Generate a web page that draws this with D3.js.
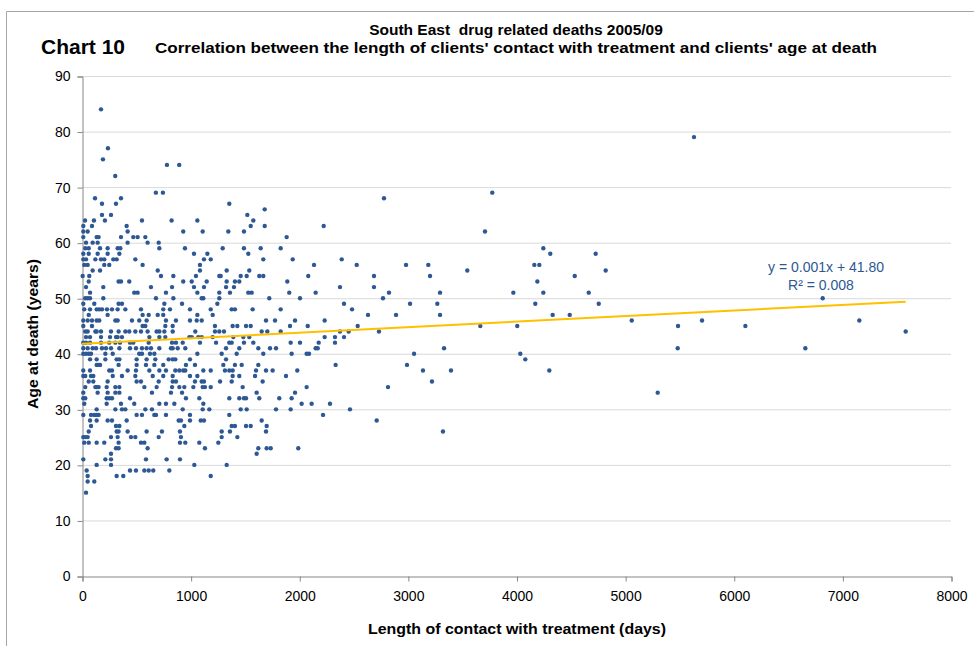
<!DOCTYPE html>
<html>
<head>
<meta charset="utf-8">
<script src="https://cdn.jsdelivr.net/npm/d3@7"></script>
<style>
  body { margin: 0; background: #fff; }
  text { font-family: "Liberation Sans", Arial, sans-serif; }
</style>
</head>
<body>
<div id="container"></div>
<script>
/* CONSTANTS AND GLOBALS */
const width = 974;
const height = 646;
const plot = { left: 82, right: 951, top: 76, bottom: 576 };

/* DATA */
const xTicks = [0, 1000, 2000, 3000, 4000, 5000, 6000, 7000, 8000];
const yTicks = [0, 10, 20, 30, 40, 50, 60, 70, 80, 90];
const trendSlope = 0.001;
const trendIntercept = 41.80;

// age at death, then days of contact with treatment for each client of that age
const daysByAge = [
  [84, [175]],
  [79, [5634]],
  [77, [239]],
  [75, [193]],
  [74, [782, 895]],
  [72, [306]],
  [69, [680, 745, 3777]],
  [68, [120, 359, 2780]],
  [67, [184, 313, 1356]],
  [66, [1682]],
  [65, [184, 267, 1522]],
  [64, [28, 110, 211, 552, 825, 1062, 1577]],
  [63, [12, 92, 411, 1553, 1682, 2225]],
  [62, [12, 52, 420, 932, 1111, 1347, 1491, 3710]],
  [61, [12, 135, 153, 359, 472, 512, 583, 1884]],
  [60, [37, 98, 144, 420, 604, 706]],
  [59, [30, 62, 166, 236, 328, 353, 712, 948, 1295, 1491, 1645, 1829, 4247]],
  [58, [12, 62, 144, 236, 344, 1031, 1154, 1531, 4311, 4729]],
  [57, [12, 37, 123, 175, 205, 288, 319, 491, 1123, 1185, 1669, 1940, 2391]],
  [56, [21, 52, 205, 251, 558, 1086, 2136, 2529, 2983, 3188, 4164, 4210]],
  [55, [98, 166, 697, 1086, 1332, 1540, 3547, 4821]],
  [54, [6, 67, 727, 841, 1049, 1264, 1277, 1461, 1516, 1632, 1669, 2083, 2688, 3204, 4536]],
  [53, [62, 337, 359, 435, 932, 1010, 1148, 1332, 1408, 1448, 1890, 4192]],
  [52, [37, 196, 635, 829, 1031, 1123, 1326, 1399, 2375, 2688]],
  [51, [74, 481, 512, 773, 1062, 1264, 1362, 1531, 1562, 1908, 2151, 2826, 3296, 3971, 4247, 4665]],
  [50, [30, 52, 74, 196, 681, 841, 1102, 1117, 1264, 1724, 2007, 2771, 6819]],
  [49, [12, 113, 337, 368, 758, 921, 1246, 2412, 3020, 3271, 4173, 4757]],
  [48, [21, 74, 135, 159, 184, 230, 276, 328, 399, 543, 748, 810, 994, 1185, 1378, 1408, 1571, 1829, 2486]],
  [47, [62, 236, 558, 614, 697, 748, 1062, 1203, 2633, 2891, 3296, 4333, 4490]],
  [46, [12, 52, 92, 135, 159, 307, 328, 460, 527, 595, 773, 865, 994, 1056, 1102, 1694, 1777, 1961, 2234, 5061, 5708, 7156]],
  [45, [12, 92, 558, 583, 767, 835, 1224, 1387, 1430, 1510, 1553, 1915, 2078, 2538, 3667, 4007, 5487, 6107]],
  [44, [30, 52, 123, 135, 175, 267, 337, 399, 435, 491, 543, 604, 687, 712, 758, 835, 1043, 1224, 1264, 1307, 1654, 1706, 1829, 2375, 2455, 2734, 7583]],
  [43, [37, 74, 175, 258, 313, 328, 368, 620, 712, 767, 988, 1010, 1071, 1102, 1203, 1393, 1485, 1540, 2234, 2329, 2412]],
  [42, [12, 37, 74, 175, 251, 307, 350, 442, 472, 614, 829, 865, 927, 1086, 1234, 1356, 1378, 1491, 1577, 1921, 2007, 2179, 2329]],
  [41, [12, 52, 98, 129, 184, 221, 267, 344, 442, 497, 552, 595, 635, 712, 819, 835, 881, 951, 1326, 1448, 1623, 1731, 1786, 2151, 2170, 3333, 5484, 6659]],
  [40, [12, 37, 62, 83, 215, 283, 527, 552, 626, 666, 1062, 1286, 1424, 1669, 1930, 2068, 2090, 3057, 4035]],
  [39, [74, 135, 215, 319, 344, 503, 595, 675, 798, 835, 859, 994, 1326, 4081]],
  [38, [135, 153, 166, 337, 503, 589, 666, 748, 957, 1040, 1301, 1408, 1470, 1623, 2335, 2992]],
  [37, [12, 74, 251, 276, 420, 497, 620, 712, 773, 859, 896, 932, 951, 1117, 1185, 1316, 1356, 1387, 1602, 1694, 1755, 1982, 3139, 3397, 4302]],
  [36, [12, 30, 83, 104, 283, 368, 491, 651, 748, 835, 994, 1062, 1387, 1448, 1593, 1878]],
  [35, [62, 104, 236, 503, 543, 706, 835, 865, 1040, 1102, 1123, 1271, 1378, 1663, 3222]],
  [34, [30, 123, 135, 153, 227, 307, 344, 574, 687, 829, 896, 942, 1025, 1111, 1132, 1185, 1479, 2068, 2817]],
  [33, [12, 144, 236, 307, 344, 644, 819, 921, 1608, 1961, 5300]],
  [32, [12, 30, 227, 251, 276, 442, 957, 1080, 1356, 1448, 1491, 1510, 1632, 1816, 1930]],
  [31, [21, 227, 359, 481, 712, 773, 850, 1117, 2022, 2114, 2283]],
  [30, [135, 307, 368, 399, 583, 644, 927, 1111, 1172, 1461, 1516, 1786, 1921, 2467]],
  [29, [12, 83, 113, 135, 153, 503, 552, 666, 681, 773, 994, 1356, 2219]],
  [28, [74, 135, 236, 276, 411, 890, 911, 994, 1093, 1123, 1654, 2713]],
  [27, [83, 313, 344, 942, 1378, 1408, 1510, 1553, 1700]],
  [26, [62, 319, 337, 420, 595, 736, 902, 1286, 1362, 1694, 3323]],
  [25, [12, 30, 52, 267, 328, 451, 491, 706, 911, 1286, 1430]],
  [24, [21, 62, 135, 205, 337, 543, 574, 902, 951, 1080, 1255]],
  [23, [313, 337, 604, 1132, 1623, 1700, 1737, 1991]],
  [22, [267, 1608]],
  [21, [12, 215, 267, 589, 779, 902]],
  [20, [135, 267, 1034, 1332]],
  [19, [43, 442, 497, 574, 614, 656, 804]],
  [18, [52, 319, 380, 1185]],
  [17, [52, 113]],
  [15, [37]]
];

const data = daysByAge.flatMap(([age, days]) => days.map(d => ({ days: d, age: age })));

/* CHART */
const svg = d3.select("#container")
  .append("svg")
  .attr("width", width)
  .attr("height", height)
  .style("display", "block")

// outer frame of the chart object
svg.append("path")
  .attr("d", `M6.5,${height} V11.5 H${width}`)
  .attr("fill", "none")
  .attr("stroke", "#a6a6a6")

const xScale = d3.scaleLinear()
  .domain([0, 8000])
  .range([plot.left, plot.right])

const yScale = d3.scaleLinear()
  .domain([0, 90])
  .range([plot.bottom, plot.top])

// gridlines
svg.append("g")
  .selectAll("line")
  .data(yTicks.filter(d => d > 0))
  .join("line")
  .attr("x1", plot.left)
  .attr("x2", plot.right)
  .attr("y1", d => yScale(d) + 0.5)
  .attr("y2", d => yScale(d) + 0.5)
  .attr("stroke", "#d9d9d9")

const yAxis = d3.axisLeft(yScale)
  .tickValues(yTicks)
  .tickSize(5)
  .tickPadding(7)
svg.append("g")
  .attr("class", "axis")
  .attr("transform", `translate(${plot.left + 0.5}, 0.5)`)
  .call(yAxis)

const xAxis = d3.axisBottom(xScale)
  .tickValues(xTicks)
  .tickFormat(d3.format("d"))
  .tickSize(5)
  .tickPadding(10)
svg.append("g")
  .attr("class", "axis")
  .attr("transform", `translate(0.5, ${plot.bottom + 0.5})`)
  .call(xAxis)

svg.selectAll(".axis path, .axis line").attr("stroke", "#868686")
svg.selectAll(".axis text")
  .attr("fill", "#000")
  .style("font-size", "14px")

// points
svg.append("g")
  .selectAll("circle")
  .data(data)
  .join("circle")
  .attr("cx", d => xScale(d.days))
  .attr("cy", d => yScale(d.age))
  .attr("r", 2.2)
  .attr("fill", "#2d5893")

// linear trend line
const maxDays = d3.max(data, d => d.days)
svg.append("line")
  .attr("x1", xScale(0))
  .attr("y1", yScale(trendIntercept))
  .attr("x2", xScale(maxDays))
  .attr("y2", yScale(trendIntercept + trendSlope * maxDays))
  .attr("stroke", "#ffc000")
  .attr("stroke-width", 2)

svg.append("text")
  .attr("x", 826)
  .attr("y", 272)
  .attr("text-anchor", "middle")
  .attr("fill", "#2d5893")
  .style("font-size", "14px")
  .text(`y = ${trendSlope.toFixed(3)}x + ${trendIntercept.toFixed(2)}`)

svg.append("text")
  .attr("x", 821)
  .attr("y", 290)
  .attr("text-anchor", "middle")
  .attr("fill", "#2d5893")
  .style("font-size", "14px")
  .text("R² = 0.008")

/* TITLES */
svg.append("text")
  .attr("x", 516)
  .attr("y", 35)
  .attr("text-anchor", "middle")
  .style("font-size", "15.5px")
  .style("font-weight", "bold")
  .style("white-space", "pre")
  .text("South East  drug related deaths 2005/09")

svg.append("text")
  .attr("x", 516)
  .attr("y", 53)
  .attr("text-anchor", "middle")
  .attr("textLength", 722)
  .attr("lengthAdjust", "spacingAndGlyphs")
  .style("font-size", "15.5px")
  .style("font-weight", "bold")
  .text("Correlation between the length of clients' contact with treatment and clients' age at death")

svg.append("text")
  .attr("x", 41)
  .attr("y", 54)
  .style("font-size", "21px")
  .style("font-weight", "bold")
  .text("Chart 10")

svg.append("text")
  .attr("transform", `translate(38, 334) rotate(-90)`)
  .attr("text-anchor", "middle")
  .attr("textLength", 150)
  .attr("lengthAdjust", "spacingAndGlyphs")
  .style("font-size", "15.5px")
  .style("font-weight", "bold")
  .text("Age at death (years)")

svg.append("text")
  .attr("x", 517)
  .attr("y", 634)
  .attr("text-anchor", "middle")
  .attr("textLength", 298)
  .attr("lengthAdjust", "spacingAndGlyphs")
  .style("font-size", "15.5px")
  .style("font-weight", "bold")
  .text("Length of contact with treatment (days)")
</script>
</body>
</html>
